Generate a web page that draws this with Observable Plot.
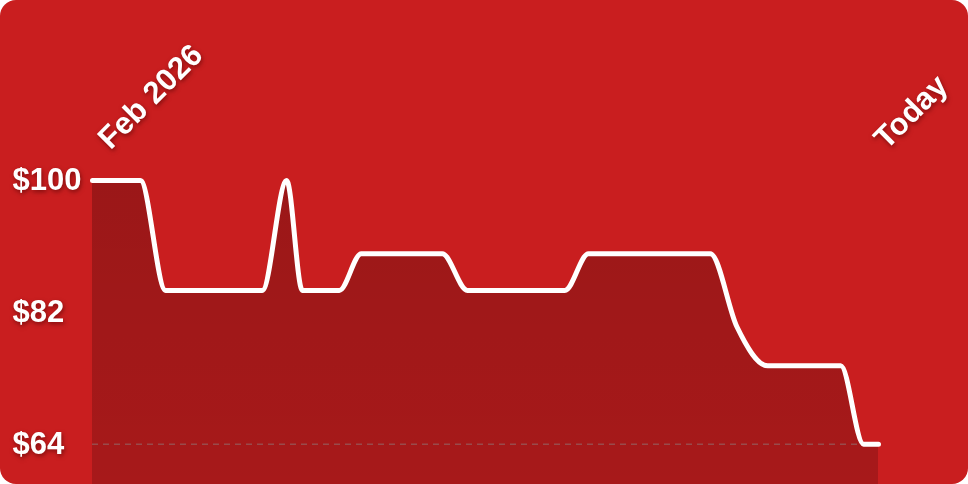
<!DOCTYPE html>
<html><head><meta charset="utf-8">
<script src="https://cdn.jsdelivr.net/npm/d3@7"></script>
<script src="https://cdn.jsdelivr.net/npm/@observablehq/plot@0.6"></script>
<style>
html,body{margin:0;padding:0;background:#fff;}
#card{width:968px;height:484px;background:#c91e1f;border-radius:16px;overflow:hidden;}
#card svg{display:block;background:transparent;}
.lbl{filter:drop-shadow(1px 2px 2px rgba(70,0,0,0.55));}
</style></head><body><div id="card"></div>
<script>
// day offset since start of Feb 2026 (estimated) and price
const days   = [0, 6.1, 9.3, 21.6, 24.7, 26.7, 31.4, 34.2, 44.5, 47.7, 60.1, 63.1, 78.6, 82.0, 85.9, 95.2, 98.1, 100];
const prices = [100, 100, 85, 85, 100, 85, 85, 90, 90, 85, 85, 90, 90, 80, 74.7, 74.7, 64, 64];
const yTicks = [100, 82, 64];
const xLabels = ["Feb 2026", "Today"];
const xLabelPos = [0, 100];

const data = days.map((d, i) => ({day: d, price: prices[i]}));
const yMin = 58.5;

const gradient = () => {
  const ns = "http://www.w3.org/2000/svg";
  const defs = document.createElementNS(ns, "defs");
  defs.innerHTML = '<linearGradient id="ag" x1="0" y1="0" x2="0" y2="1"><stop offset="0" stop-color="#000" stop-opacity="0.23"/><stop offset="1" stop-color="#000" stop-opacity="0.17"/></linearGradient>';
  return defs;
};

const font = "'Liberation Sans', Arial, Helvetica, sans-serif";

const chart = Plot.plot({
  width: 968,
  height: 484,
  marginLeft: 92,
  marginRight: 90,
  marginTop: 180,
  marginBottom: 0,
  style: {background: "transparent", fontFamily: font, overflow: "visible"},
  x: {domain: [0, 100], axis: null},
  y: {domain: [yMin, 100], axis: null},
  marks: [
    gradient,
    Plot.areaY(data, {x: "day", y1: yMin, y2: "price", curve: "monotone-x", fill: "url(#ag)"}),
    Plot.ruleY([64], {x1: 0, x2: 100, stroke: "#8a8a8a", strokeOpacity: 0.45, strokeWidth: 1.5, strokeDasharray: "6,5"}),
    Plot.line(data, {x: "day", y: "price", curve: "monotone-x", stroke: "#fff", strokeWidth: 5, strokeLinejoin: "round"}),
    Plot.text(yTicks, {y: d => d, text: d => "$" + d, frameAnchor: "left", dx: -80, textAnchor: "start",
      fill: "#fff", fontSize: 31, fontWeight: "bold", className: "lbl"}),
    Plot.text([xLabels[0]], {x: () => xLabelPos[0], y: () => 100, text: d => d, rotate: -45, textAnchor: "start",
      dx: 11, dy: -37, fill: "#fff", fontSize: 31, fontWeight: "bold", className: "lbl"}),
    Plot.text([xLabels[1]], {x: () => xLabelPos[1], y: () => 100, text: d => d, rotate: -45, textAnchor: "start",
      dx: 1, dy: -37, fill: "#fff", fontSize: 31, fontWeight: "bold", className: "lbl"})
  ]
});
document.getElementById("card").appendChild(chart);
</script>
</body></html>
